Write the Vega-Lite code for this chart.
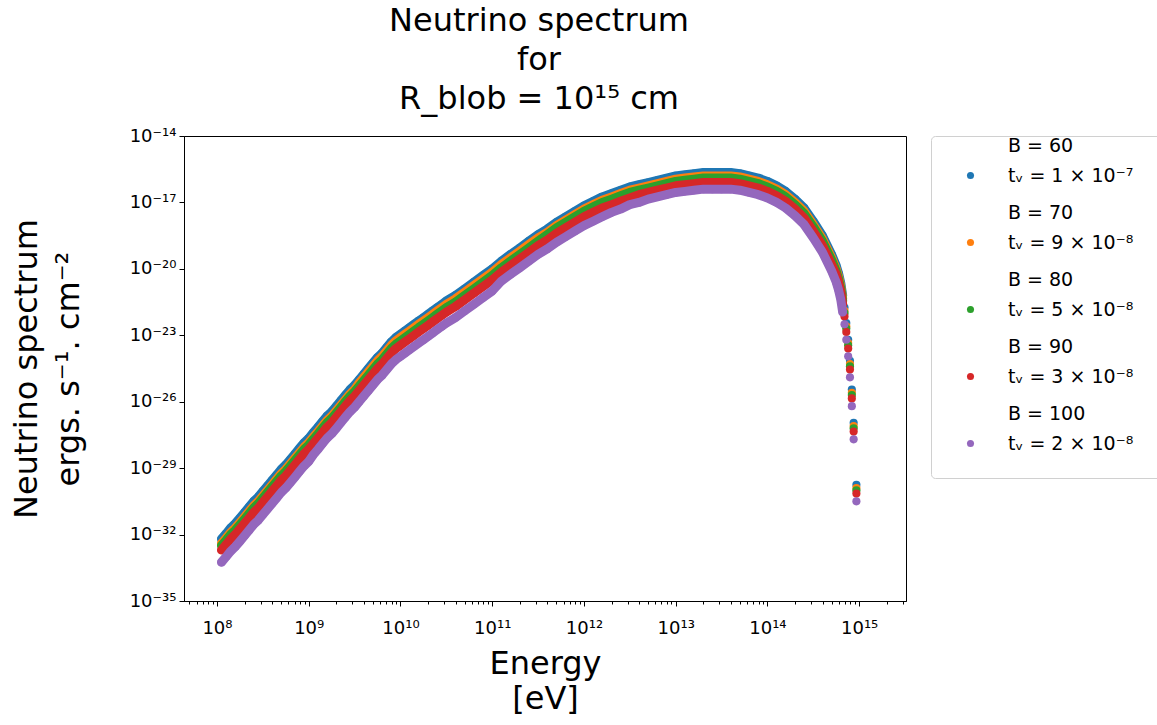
{
"$schema":"https://vega.github.io/schema/vega-lite/v6.json",
"width":722,"height":465,
"padding":{"left":10,"top":5,"right":0,"bottom":0},
"background":"white",
"title":{"text":["Neutrino spectrum","for","R_blob = 10¹⁵ cm"],"fontSize":32,"font":"DejaVu Sans","fontWeight":"normal","lineHeight":39,"anchor":"middle","frame":"group","offset":11,"dx":-6,"color":"black"},
"data":{"values":[
{"E":1.12e8,"B":60,"F":6.31e-33},{"E":1.26e8,"B":60,"F":1.12e-32},{"E":1.41e8,"B":60,"F":2e-32},{"E":1.58e8,"B":60,"F":3.16e-32},{"E":1.78e8,"B":60,"F":5.62e-32},{"E":2e8,"B":60,"F":1e-31},{"E":2.24e8,"B":60,"F":1.78e-31},{"E":2.51e8,"B":60,"F":3.16e-31},{"E":2.82e8,"B":60,"F":5.01e-31},{"E":3.16e8,"B":60,"F":8.91e-31},
{"E":3.55e8,"B":60,"F":1.58e-30},{"E":3.98e8,"B":60,"F":2.82e-30},{"E":4.47e8,"B":60,"F":5.01e-30},{"E":5.01e8,"B":60,"F":8.91e-30},{"E":5.62e8,"B":60,"F":1.41e-29},{"E":6.31e8,"B":60,"F":2.51e-29},{"E":7.08e8,"B":60,"F":4.47e-29},{"E":7.94e8,"B":60,"F":7.94e-29},{"E":8.91e8,"B":60,"F":1.41e-28},{"E":1e9,"B":60,"F":2.24e-28},
{"E":1.12e9,"B":60,"F":3.98e-28},{"E":1.26e9,"B":60,"F":7.08e-28},{"E":1.41e9,"B":60,"F":1.26e-27},{"E":1.58e9,"B":60,"F":2.24e-27},{"E":1.78e9,"B":60,"F":3.55e-27},{"E":2e9,"B":60,"F":6.31e-27},{"E":2.24e9,"B":60,"F":1.12e-26},{"E":2.51e9,"B":60,"F":2e-26},{"E":2.82e9,"B":60,"F":3.55e-26},{"E":3.16e9,"B":60,"F":5.62e-26},
{"E":3.55e9,"B":60,"F":1e-25},{"E":3.98e9,"B":60,"F":1.78e-25},{"E":4.47e9,"B":60,"F":3.16e-25},{"E":5.01e9,"B":60,"F":5.62e-25},{"E":5.62e9,"B":60,"F":1e-24},{"E":6.31e9,"B":60,"F":1.58e-24},{"E":7.08e9,"B":60,"F":2.82e-24},{"E":7.94e9,"B":60,"F":5.01e-24},{"E":8.91e9,"B":60,"F":7.94e-24},{"E":1e10,"B":60,"F":1.12e-23},
{"E":1.12e10,"B":60,"F":1.58e-23},{"E":1.26e10,"B":60,"F":2.24e-23},{"E":1.41e10,"B":60,"F":3.16e-23},{"E":1.58e10,"B":60,"F":4.47e-23},{"E":1.78e10,"B":60,"F":6.31e-23},{"E":2e10,"B":60,"F":8.91e-23},{"E":2.24e10,"B":60,"F":1.26e-22},{"E":2.51e10,"B":60,"F":1.78e-22},{"E":2.82e10,"B":60,"F":2.51e-22},{"E":3.16e10,"B":60,"F":3.55e-22},
{"E":3.98e10,"B":60,"F":6.31e-22},{"E":5.01e10,"B":60,"F":1.26e-21},{"E":6.31e10,"B":60,"F":2.51e-21},{"E":7.94e10,"B":60,"F":5.01e-21},{"E":1e11,"B":60,"F":1e-20},{"E":1.26e11,"B":60,"F":2.24e-20},{"E":1.58e11,"B":60,"F":4.47e-20},{"E":2e11,"B":60,"F":8.91e-20},{"E":2.51e11,"B":60,"F":1.78e-19},{"E":3.16e11,"B":60,"F":3.55e-19},
{"E":3.98e11,"B":60,"F":6.31e-19},{"E":5.01e11,"B":60,"F":1.26e-18},{"E":6.31e11,"B":60,"F":2.24e-18},{"E":7.94e11,"B":60,"F":3.98e-18},{"E":1e12,"B":60,"F":7.08e-18},{"E":1.26e12,"B":60,"F":1.12e-17},{"E":1.58e12,"B":60,"F":1.78e-17},{"E":2e12,"B":60,"F":2.51e-17},{"E":2.51e12,"B":60,"F":3.55e-17},{"E":3.16e12,"B":60,"F":5.01e-17},
{"E":3.98e12,"B":60,"F":6.31e-17},{"E":5.01e12,"B":60,"F":7.94e-17},{"E":6.31e12,"B":60,"F":1e-16},{"E":7.94e12,"B":60,"F":1.26e-16},{"E":1e13,"B":60,"F":1.58e-16},{"E":1.26e13,"B":60,"F":1.78e-16},{"E":1.58e13,"B":60,"F":2e-16},{"E":2e13,"B":60,"F":2.24e-16},{"E":2.51e13,"B":60,"F":2.24e-16},{"E":3.16e13,"B":60,"F":2.24e-16},
{"E":3.98e13,"B":60,"F":2.24e-16},{"E":5.01e13,"B":60,"F":2e-16},{"E":6.31e13,"B":60,"F":1.58e-16},{"E":7.94e13,"B":60,"F":1.26e-16},{"E":1e14,"B":60,"F":8.91e-17},{"E":1.26e14,"B":60,"F":5.62e-17},{"E":1.58e14,"B":60,"F":3.16e-17},{"E":2e14,"B":60,"F":1.41e-17},{"E":2.51e14,"B":60,"F":5.62e-18},{"E":3.16e14,"B":60,"F":1.41e-18},
{"E":3.98e14,"B":60,"F":3.16e-19},{"E":5.01e14,"B":60,"F":4.47e-20},{"E":5.62e14,"B":60,"F":1.41e-20},{"E":5.96e14,"B":60,"F":6.31e-21},{"E":6.31e14,"B":60,"F":2.24e-21},{"E":6.61e14,"B":60,"F":6.31e-22},{"E":6.92e14,"B":60,"F":1.78e-22},{"E":7.24e14,"B":60,"F":3.55e-23},{"E":7.59e14,"B":60,"F":6.31e-24},{"E":7.94e14,"B":60,"F":7.08e-25},
{"E":8.32e14,"B":60,"F":3.55e-26},{"E":8.71e14,"B":60,"F":1.12e-27},{"E":9.33e14,"B":60,"F":1.78e-30},

{"E":1.12e8,"B":70,"F":3.98e-33},{"E":1.26e8,"B":70,"F":7.08e-33},{"E":1.41e8,"B":70,"F":1.26e-32},{"E":1.58e8,"B":70,"F":2e-32},{"E":1.78e8,"B":70,"F":3.55e-32},{"E":2e8,"B":70,"F":6.31e-32},{"E":2.24e8,"B":70,"F":1.12e-31},{"E":2.51e8,"B":70,"F":2e-31},{"E":2.82e8,"B":70,"F":3.16e-31},{"E":3.16e8,"B":70,"F":5.62e-31},
{"E":3.55e8,"B":70,"F":1e-30},{"E":3.98e8,"B":70,"F":1.78e-30},{"E":4.47e8,"B":70,"F":3.16e-30},{"E":5.01e8,"B":70,"F":5.62e-30},{"E":5.62e8,"B":70,"F":8.91e-30},{"E":6.31e8,"B":70,"F":1.58e-29},{"E":7.08e8,"B":70,"F":2.82e-29},{"E":7.94e8,"B":70,"F":5.01e-29},{"E":8.91e8,"B":70,"F":8.91e-29},{"E":1e9,"B":70,"F":1.41e-28},
{"E":1.12e9,"B":70,"F":2.51e-28},{"E":1.26e9,"B":70,"F":4.47e-28},{"E":1.41e9,"B":70,"F":7.94e-28},{"E":1.58e9,"B":70,"F":1.41e-27},{"E":1.78e9,"B":70,"F":2.24e-27},{"E":2e9,"B":70,"F":3.98e-27},{"E":2.24e9,"B":70,"F":7.08e-27},{"E":2.51e9,"B":70,"F":1.26e-26},{"E":2.82e9,"B":70,"F":2.24e-26},{"E":3.16e9,"B":70,"F":3.55e-26},
{"E":3.55e9,"B":70,"F":7.08e-26},{"E":3.98e9,"B":70,"F":1.26e-25},{"E":4.47e9,"B":70,"F":2.24e-25},{"E":5.01e9,"B":70,"F":3.98e-25},{"E":5.62e9,"B":70,"F":7.08e-25},{"E":6.31e9,"B":70,"F":1.12e-24},{"E":7.08e9,"B":70,"F":2e-24},{"E":7.94e9,"B":70,"F":3.55e-24},{"E":8.91e9,"B":70,"F":5.62e-24},{"E":1e10,"B":70,"F":7.94e-24},
{"E":1.12e10,"B":70,"F":1.12e-23},{"E":1.26e10,"B":70,"F":1.58e-23},{"E":1.41e10,"B":70,"F":2.24e-23},{"E":1.58e10,"B":70,"F":3.16e-23},{"E":1.78e10,"B":70,"F":4.47e-23},{"E":2e10,"B":70,"F":6.31e-23},{"E":2.24e10,"B":70,"F":8.91e-23},{"E":2.51e10,"B":70,"F":1.26e-22},{"E":2.82e10,"B":70,"F":1.78e-22},{"E":3.16e10,"B":70,"F":2.51e-22},
{"E":3.98e10,"B":70,"F":4.47e-22},{"E":5.01e10,"B":70,"F":8.91e-22},{"E":6.31e10,"B":70,"F":1.78e-21},{"E":7.94e10,"B":70,"F":3.55e-21},{"E":1e11,"B":70,"F":7.08e-21},{"E":1.26e11,"B":70,"F":1.58e-20},{"E":1.58e11,"B":70,"F":3.16e-20},{"E":2e11,"B":70,"F":6.31e-20},{"E":2.51e11,"B":70,"F":1.26e-19},{"E":3.16e11,"B":70,"F":2.51e-19},
{"E":3.98e11,"B":70,"F":4.47e-19},{"E":5.01e11,"B":70,"F":8.91e-19},{"E":6.31e11,"B":70,"F":1.58e-18},{"E":7.94e11,"B":70,"F":2.82e-18},{"E":1e12,"B":70,"F":5.01e-18},{"E":1.26e12,"B":70,"F":7.94e-18},{"E":1.58e12,"B":70,"F":1.26e-17},{"E":2e12,"B":70,"F":1.78e-17},{"E":2.51e12,"B":70,"F":2.51e-17},{"E":3.16e12,"B":70,"F":3.55e-17},
{"E":3.98e12,"B":70,"F":4.47e-17},{"E":5.01e12,"B":70,"F":5.62e-17},{"E":6.31e12,"B":70,"F":7.08e-17},{"E":7.94e12,"B":70,"F":8.91e-17},{"E":1e13,"B":70,"F":1.12e-16},{"E":1.26e13,"B":70,"F":1.26e-16},{"E":1.58e13,"B":70,"F":1.41e-16},{"E":2e13,"B":70,"F":1.58e-16},{"E":2.51e13,"B":70,"F":1.58e-16},{"E":3.16e13,"B":70,"F":1.58e-16},
{"E":3.98e13,"B":70,"F":1.58e-16},{"E":5.01e13,"B":70,"F":1.41e-16},{"E":6.31e13,"B":70,"F":1.12e-16},{"E":7.94e13,"B":70,"F":8.91e-17},{"E":1e14,"B":70,"F":6.31e-17},{"E":1.26e14,"B":70,"F":3.98e-17},{"E":1.58e14,"B":70,"F":2.24e-17},{"E":2e14,"B":70,"F":1e-17},{"E":2.51e14,"B":70,"F":3.98e-18},{"E":3.16e14,"B":70,"F":1e-18},
{"E":3.98e14,"B":70,"F":2.24e-19},{"E":5.01e14,"B":70,"F":3.16e-20},{"E":5.62e14,"B":70,"F":1e-20},{"E":5.96e14,"B":70,"F":4.47e-21},{"E":6.31e14,"B":70,"F":1.58e-21},{"E":6.61e14,"B":70,"F":4.47e-22},{"E":6.92e14,"B":70,"F":1.26e-22},{"E":7.24e14,"B":70,"F":2.51e-23},{"E":7.59e14,"B":70,"F":4.47e-24},{"E":7.94e14,"B":70,"F":5.01e-25},
{"E":8.32e14,"B":70,"F":2.51e-26},{"E":8.71e14,"B":70,"F":7.94e-28},{"E":9.33e14,"B":70,"F":1.26e-30},

{"E":1.12e8,"B":80,"F":3.16e-33},{"E":1.26e8,"B":80,"F":5.62e-33},{"E":1.41e8,"B":80,"F":1e-32},{"E":1.58e8,"B":80,"F":1.58e-32},{"E":1.78e8,"B":80,"F":2.82e-32},{"E":2e8,"B":80,"F":5.01e-32},{"E":2.24e8,"B":80,"F":8.91e-32},{"E":2.51e8,"B":80,"F":1.58e-31},{"E":2.82e8,"B":80,"F":2.51e-31},{"E":3.16e8,"B":80,"F":4.47e-31},
{"E":3.55e8,"B":80,"F":7.94e-31},{"E":3.98e8,"B":80,"F":1.41e-30},{"E":4.47e8,"B":80,"F":2.51e-30},{"E":5.01e8,"B":80,"F":4.47e-30},{"E":5.62e8,"B":80,"F":7.08e-30},{"E":6.31e8,"B":80,"F":1.26e-29},{"E":7.08e8,"B":80,"F":2.24e-29},{"E":7.94e8,"B":80,"F":3.98e-29},{"E":8.91e8,"B":80,"F":7.08e-29},{"E":1e9,"B":80,"F":1.12e-28},
{"E":1.12e9,"B":80,"F":2e-28},{"E":1.26e9,"B":80,"F":3.55e-28},{"E":1.41e9,"B":80,"F":6.31e-28},{"E":1.58e9,"B":80,"F":1.12e-27},{"E":1.78e9,"B":80,"F":1.78e-27},{"E":2e9,"B":80,"F":3.16e-27},{"E":2.24e9,"B":80,"F":5.62e-27},{"E":2.51e9,"B":80,"F":1e-26},{"E":2.82e9,"B":80,"F":1.78e-26},{"E":3.16e9,"B":80,"F":2.82e-26},
{"E":3.55e9,"B":80,"F":5.01e-26},{"E":3.98e9,"B":80,"F":8.91e-26},{"E":4.47e9,"B":80,"F":1.58e-25},{"E":5.01e9,"B":80,"F":2.82e-25},{"E":5.62e9,"B":80,"F":5.01e-25},{"E":6.31e9,"B":80,"F":7.94e-25},{"E":7.08e9,"B":80,"F":1.41e-24},{"E":7.94e9,"B":80,"F":2.51e-24},{"E":8.91e9,"B":80,"F":3.98e-24},{"E":1e10,"B":80,"F":5.62e-24},
{"E":1.12e10,"B":80,"F":7.94e-24},{"E":1.26e10,"B":80,"F":1.12e-23},{"E":1.41e10,"B":80,"F":1.58e-23},{"E":1.58e10,"B":80,"F":2.24e-23},{"E":1.78e10,"B":80,"F":3.16e-23},{"E":2e10,"B":80,"F":4.47e-23},{"E":2.24e10,"B":80,"F":6.31e-23},{"E":2.51e10,"B":80,"F":8.91e-23},{"E":2.82e10,"B":80,"F":1.26e-22},{"E":3.16e10,"B":80,"F":1.78e-22},
{"E":3.98e10,"B":80,"F":3.16e-22},{"E":5.01e10,"B":80,"F":6.31e-22},{"E":6.31e10,"B":80,"F":1.26e-21},{"E":7.94e10,"B":80,"F":2.51e-21},{"E":1e11,"B":80,"F":5.01e-21},{"E":1.26e11,"B":80,"F":1.12e-20},{"E":1.58e11,"B":80,"F":2.24e-20},{"E":2e11,"B":80,"F":4.47e-20},{"E":2.51e11,"B":80,"F":8.91e-20},{"E":3.16e11,"B":80,"F":1.78e-19},
{"E":3.98e11,"B":80,"F":3.55e-19},{"E":5.01e11,"B":80,"F":7.08e-19},{"E":6.31e11,"B":80,"F":1.26e-18},{"E":7.94e11,"B":80,"F":2.24e-18},{"E":1e12,"B":80,"F":3.98e-18},{"E":1.26e12,"B":80,"F":6.31e-18},{"E":1.58e12,"B":80,"F":1e-17},{"E":2e12,"B":80,"F":1.41e-17},{"E":2.51e12,"B":80,"F":2e-17},{"E":3.16e12,"B":80,"F":2.82e-17},
{"E":3.98e12,"B":80,"F":3.55e-17},{"E":5.01e12,"B":80,"F":4.47e-17},{"E":6.31e12,"B":80,"F":5.62e-17},{"E":7.94e12,"B":80,"F":7.08e-17},{"E":1e13,"B":80,"F":8.91e-17},{"E":1.26e13,"B":80,"F":1e-16},{"E":1.58e13,"B":80,"F":1.12e-16},{"E":2e13,"B":80,"F":1.26e-16},{"E":2.51e13,"B":80,"F":1.26e-16},{"E":3.16e13,"B":80,"F":1.26e-16},
{"E":3.98e13,"B":80,"F":1.26e-16},{"E":5.01e13,"B":80,"F":1.12e-16},{"E":6.31e13,"B":80,"F":8.91e-17},{"E":7.94e13,"B":80,"F":7.08e-17},{"E":1e14,"B":80,"F":5.01e-17},{"E":1.26e14,"B":80,"F":3.16e-17},{"E":1.58e14,"B":80,"F":1.78e-17},{"E":2e14,"B":80,"F":7.94e-18},{"E":2.51e14,"B":80,"F":3.16e-18},{"E":3.16e14,"B":80,"F":7.94e-19},
{"E":3.98e14,"B":80,"F":1.78e-19},{"E":5.01e14,"B":80,"F":2.51e-20},{"E":5.62e14,"B":80,"F":7.94e-21},{"E":5.96e14,"B":80,"F":3.55e-21},{"E":6.31e14,"B":80,"F":1.26e-21},{"E":6.61e14,"B":80,"F":3.55e-22},{"E":6.92e14,"B":80,"F":1e-22},{"E":7.24e14,"B":80,"F":2e-23},{"E":7.59e14,"B":80,"F":3.55e-24},{"E":7.94e14,"B":80,"F":3.98e-25},
{"E":8.32e14,"B":80,"F":2e-26},{"E":8.71e14,"B":80,"F":6.31e-28},{"E":9.33e14,"B":80,"F":1e-30},

{"E":1.12e8,"B":90,"F":2e-33},{"E":1.26e8,"B":90,"F":3.55e-33},{"E":1.41e8,"B":90,"F":6.31e-33},{"E":1.58e8,"B":90,"F":1e-32},{"E":1.78e8,"B":90,"F":1.78e-32},{"E":2e8,"B":90,"F":3.16e-32},{"E":2.24e8,"B":90,"F":5.62e-32},{"E":2.51e8,"B":90,"F":1e-31},{"E":2.82e8,"B":90,"F":1.58e-31},{"E":3.16e8,"B":90,"F":2.82e-31},
{"E":3.55e8,"B":90,"F":5.01e-31},{"E":3.98e8,"B":90,"F":8.91e-31},{"E":4.47e8,"B":90,"F":1.58e-30},{"E":5.01e8,"B":90,"F":2.82e-30},{"E":5.62e8,"B":90,"F":4.47e-30},{"E":6.31e8,"B":90,"F":7.94e-30},{"E":7.08e8,"B":90,"F":1.41e-29},{"E":7.94e8,"B":90,"F":2.51e-29},{"E":8.91e8,"B":90,"F":4.47e-29},{"E":1e9,"B":90,"F":7.08e-29},
{"E":1.12e9,"B":90,"F":1.26e-28},{"E":1.26e9,"B":90,"F":2.24e-28},{"E":1.41e9,"B":90,"F":3.98e-28},{"E":1.58e9,"B":90,"F":7.08e-28},{"E":1.78e9,"B":90,"F":1.12e-27},{"E":2e9,"B":90,"F":2e-27},{"E":2.24e9,"B":90,"F":3.55e-27},{"E":2.51e9,"B":90,"F":6.31e-27},{"E":2.82e9,"B":90,"F":1.12e-26},{"E":3.16e9,"B":90,"F":1.78e-26},
{"E":3.55e9,"B":90,"F":3.16e-26},{"E":3.98e9,"B":90,"F":5.62e-26},{"E":4.47e9,"B":90,"F":1e-25},{"E":5.01e9,"B":90,"F":1.78e-25},{"E":5.62e9,"B":90,"F":3.16e-25},{"E":6.31e9,"B":90,"F":5.01e-25},{"E":7.08e9,"B":90,"F":8.91e-25},{"E":7.94e9,"B":90,"F":1.58e-24},{"E":8.91e9,"B":90,"F":2.51e-24},{"E":1e10,"B":90,"F":3.55e-24},
{"E":1.12e10,"B":90,"F":5.01e-24},{"E":1.26e10,"B":90,"F":7.08e-24},{"E":1.41e10,"B":90,"F":1e-23},{"E":1.58e10,"B":90,"F":1.41e-23},{"E":1.78e10,"B":90,"F":2e-23},{"E":2e10,"B":90,"F":2.82e-23},{"E":2.24e10,"B":90,"F":3.98e-23},{"E":2.51e10,"B":90,"F":5.62e-23},{"E":2.82e10,"B":90,"F":7.94e-23},{"E":3.16e10,"B":90,"F":1.12e-22},
{"E":3.98e10,"B":90,"F":2e-22},{"E":5.01e10,"B":90,"F":3.98e-22},{"E":6.31e10,"B":90,"F":7.94e-22},{"E":7.94e10,"B":90,"F":1.58e-21},{"E":1e11,"B":90,"F":3.16e-21},{"E":1.26e11,"B":90,"F":7.08e-21},{"E":1.58e11,"B":90,"F":1.41e-20},{"E":2e11,"B":90,"F":2.82e-20},{"E":2.51e11,"B":90,"F":5.62e-20},{"E":3.16e11,"B":90,"F":1.12e-19},
{"E":3.98e11,"B":90,"F":2e-19},{"E":5.01e11,"B":90,"F":3.98e-19},{"E":6.31e11,"B":90,"F":7.08e-19},{"E":7.94e11,"B":90,"F":1.26e-18},{"E":1e12,"B":90,"F":2.24e-18},{"E":1.26e12,"B":90,"F":3.55e-18},{"E":1.58e12,"B":90,"F":5.62e-18},{"E":2e12,"B":90,"F":7.94e-18},{"E":2.51e12,"B":90,"F":1.12e-17},{"E":3.16e12,"B":90,"F":1.58e-17},
{"E":3.98e12,"B":90,"F":2.24e-17},{"E":5.01e12,"B":90,"F":2.82e-17},{"E":6.31e12,"B":90,"F":3.55e-17},{"E":7.94e12,"B":90,"F":4.47e-17},{"E":1e13,"B":90,"F":5.62e-17},{"E":1.26e13,"B":90,"F":6.31e-17},{"E":1.58e13,"B":90,"F":7.08e-17},{"E":2e13,"B":90,"F":7.94e-17},{"E":2.51e13,"B":90,"F":7.94e-17},{"E":3.16e13,"B":90,"F":7.94e-17},
{"E":3.98e13,"B":90,"F":7.94e-17},{"E":5.01e13,"B":90,"F":7.08e-17},{"E":6.31e13,"B":90,"F":5.62e-17},{"E":7.94e13,"B":90,"F":4.47e-17},{"E":1e14,"B":90,"F":3.16e-17},{"E":1.26e14,"B":90,"F":2e-17},{"E":1.58e14,"B":90,"F":1.12e-17},{"E":2e14,"B":90,"F":5.01e-18},{"E":2.51e14,"B":90,"F":2e-18},{"E":3.16e14,"B":90,"F":5.01e-19},
{"E":3.98e14,"B":90,"F":1.12e-19},{"E":5.01e14,"B":90,"F":1.58e-20},{"E":5.62e14,"B":90,"F":5.62e-21},{"E":5.96e14,"B":90,"F":2.51e-21},{"E":6.31e14,"B":90,"F":8.91e-22},{"E":6.61e14,"B":90,"F":2.51e-22},{"E":6.92e14,"B":90,"F":7.08e-23},{"E":7.24e14,"B":90,"F":1.41e-23},{"E":7.59e14,"B":90,"F":2.51e-24},{"E":7.94e14,"B":90,"F":2.82e-25},
{"E":8.32e14,"B":90,"F":1.41e-26},{"E":8.71e14,"B":90,"F":4.47e-28},{"E":9.33e14,"B":90,"F":7.08e-31},

{"E":1.12e8,"B":100,"F":5.62e-34},{"E":1.26e8,"B":100,"F":1e-33},{"E":1.41e8,"B":100,"F":1.78e-33},{"E":1.58e8,"B":100,"F":2.82e-33},{"E":1.78e8,"B":100,"F":5.01e-33},{"E":2e8,"B":100,"F":8.91e-33},{"E":2.24e8,"B":100,"F":1.58e-32},{"E":2.51e8,"B":100,"F":2.82e-32},{"E":2.82e8,"B":100,"F":4.47e-32},{"E":3.16e8,"B":100,"F":7.94e-32},
{"E":3.55e8,"B":100,"F":1.41e-31},{"E":3.98e8,"B":100,"F":2.51e-31},{"E":4.47e8,"B":100,"F":4.47e-31},{"E":5.01e8,"B":100,"F":7.94e-31},{"E":5.62e8,"B":100,"F":1.26e-30},{"E":6.31e8,"B":100,"F":2.24e-30},{"E":7.08e8,"B":100,"F":3.98e-30},{"E":7.94e8,"B":100,"F":7.08e-30},{"E":8.91e8,"B":100,"F":1.26e-29},{"E":1e9,"B":100,"F":2e-29},
{"E":1.12e9,"B":100,"F":3.98e-29},{"E":1.26e9,"B":100,"F":7.08e-29},{"E":1.41e9,"B":100,"F":1.26e-28},{"E":1.58e9,"B":100,"F":2.24e-28},{"E":1.78e9,"B":100,"F":3.55e-28},{"E":2e9,"B":100,"F":6.31e-28},{"E":2.24e9,"B":100,"F":1.12e-27},{"E":2.51e9,"B":100,"F":2e-27},{"E":2.82e9,"B":100,"F":3.55e-27},{"E":3.16e9,"B":100,"F":5.62e-27},
{"E":3.55e9,"B":100,"F":1e-26},{"E":3.98e9,"B":100,"F":1.78e-26},{"E":4.47e9,"B":100,"F":3.16e-26},{"E":5.01e9,"B":100,"F":5.62e-26},{"E":5.62e9,"B":100,"F":1e-25},{"E":6.31e9,"B":100,"F":1.58e-25},{"E":7.08e9,"B":100,"F":2.82e-25},{"E":7.94e9,"B":100,"F":5.01e-25},{"E":8.91e9,"B":100,"F":7.94e-25},{"E":1e10,"B":100,"F":1.12e-24},
{"E":1.12e10,"B":100,"F":1.58e-24},{"E":1.26e10,"B":100,"F":2.24e-24},{"E":1.41e10,"B":100,"F":3.16e-24},{"E":1.58e10,"B":100,"F":4.47e-24},{"E":1.78e10,"B":100,"F":6.31e-24},{"E":2e10,"B":100,"F":8.91e-24},{"E":2.24e10,"B":100,"F":1.26e-23},{"E":2.51e10,"B":100,"F":1.78e-23},{"E":2.82e10,"B":100,"F":2.51e-23},{"E":3.16e10,"B":100,"F":3.55e-23},
{"E":3.98e10,"B":100,"F":6.31e-23},{"E":5.01e10,"B":100,"F":1.26e-22},{"E":6.31e10,"B":100,"F":2.51e-22},{"E":7.94e10,"B":100,"F":5.01e-22},{"E":1e11,"B":100,"F":1e-21},{"E":1.26e11,"B":100,"F":2.82e-21},{"E":1.58e11,"B":100,"F":5.62e-21},{"E":2e11,"B":100,"F":1.12e-20},{"E":2.51e11,"B":100,"F":2.24e-20},{"E":3.16e11,"B":100,"F":4.47e-20},
{"E":3.98e11,"B":100,"F":7.94e-20},{"E":5.01e11,"B":100,"F":1.58e-19},{"E":6.31e11,"B":100,"F":2.82e-19},{"E":7.94e11,"B":100,"F":5.01e-19},{"E":1e12,"B":100,"F":8.91e-19},{"E":1.26e12,"B":100,"F":1.41e-18},{"E":1.58e12,"B":100,"F":2.24e-18},{"E":2e12,"B":100,"F":3.55e-18},{"E":2.51e12,"B":100,"F":5.01e-18},{"E":3.16e12,"B":100,"F":7.94e-18},
{"E":3.98e12,"B":100,"F":1e-17},{"E":5.01e12,"B":100,"F":1.41e-17},{"E":6.31e12,"B":100,"F":1.78e-17},{"E":7.94e12,"B":100,"F":2.24e-17},{"E":1e13,"B":100,"F":2.82e-17},{"E":1.26e13,"B":100,"F":3.16e-17},{"E":1.58e13,"B":100,"F":3.55e-17},{"E":2e13,"B":100,"F":3.98e-17},{"E":2.51e13,"B":100,"F":3.98e-17},{"E":3.16e13,"B":100,"F":3.98e-17},
{"E":3.98e13,"B":100,"F":3.98e-17},{"E":5.01e13,"B":100,"F":3.55e-17},{"E":6.31e13,"B":100,"F":2.82e-17},{"E":7.94e13,"B":100,"F":2.24e-17},{"E":1e14,"B":100,"F":1.58e-17},{"E":1.26e14,"B":100,"F":1e-17},{"E":1.58e14,"B":100,"F":5.62e-18},{"E":2e14,"B":100,"F":2.51e-18},{"E":2.51e14,"B":100,"F":1e-18},{"E":3.16e14,"B":100,"F":2.51e-19},
{"E":3.98e14,"B":100,"F":5.62e-20},{"E":5.01e14,"B":100,"F":7.94e-21},{"E":5.62e14,"B":100,"F":2.51e-21},{"E":5.96e14,"B":100,"F":1.12e-21},{"E":6.31e14,"B":100,"F":3.98e-22},{"E":6.61e14,"B":100,"F":1.12e-22},{"E":6.92e14,"B":100,"F":3.16e-23},{"E":7.24e14,"B":100,"F":6.31e-24},{"E":7.59e14,"B":100,"F":1.12e-24},{"E":7.94e14,"B":100,"F":1.26e-25},
{"E":8.32e14,"B":100,"F":6.31e-27},{"E":8.71e14,"B":100,"F":2e-28},{"E":9.33e14,"B":100,"F":3.16e-31}
]},
"encoding":{
"x":{"field":"E","type":"quantitative","title":["Energy","[eV]"],
"scale":{"type":"log","domain":[4.37e7,3.24e15],"nice":false},
"axis":{"values":[5e7,6e7,7e7,8e7,9e7,1e8,2e8,3e8,4e8,5e8,6e8,7e8,8e8,9e8,1e9,2e9,3e9,4e9,5e9,6e9,7e9,8e9,9e9,1e10,2e10,3e10,4e10,5e10,6e10,7e10,8e10,9e10,1e11,2e11,3e11,4e11,5e11,6e11,7e11,8e11,9e11,1e12,2e12,3e12,4e12,5e12,6e12,7e12,8e12,9e12,1e13,2e13,3e13,4e13,5e13,6e13,7e13,8e13,9e13,1e14,2e14,3e14,4e14,5e14,6e14,7e14,8e14,9e14,1e15,2e15,3e15],
"labelExpr":"abs(log(datum.value)/LN10 - round(log(datum.value)/LN10)) > 0.001 ? '' : '10' + (round(log(datum.value)/LN10) >= 10 ? ['⁰','¹','²','³','⁴','⁵','⁶','⁷','⁸','⁹'][floor(round(log(datum.value)/LN10)/10)] : '') + ['⁰','¹','²','³','⁴','⁵','⁶','⁷','⁸','⁹'][round(log(datum.value)/LN10) % 10]",
"tickSize":{"condition":{"test":"abs(log(datum.value)/LN10 - round(log(datum.value)/LN10)) < 0.001","value":5},"value":3},
"labelOverlap":false,"labelFlush":false,"labelPadding":13,"titlePadding":11,"titleLineHeight":35}},
"y":{"field":"F","type":"quantitative","title":["Neutrino spectrum","ergs. s⁻¹. cm⁻²"],
"scale":{"type":"log","domain":[1e-35,1e-14],"nice":false},
"axis":{"values":[1e-35,1e-32,1e-29,1e-26,1e-23,1e-20,1e-17,1e-14],
"labelExpr":"'10⁻' + ['⁰','¹','²','³','⁴','⁵','⁶','⁷','⁸','⁹'][floor(-round(log(datum.value)/LN10)/10)] + ['⁰','¹','²','³','⁴','⁵','⁶','⁷','⁸','⁹'][(-round(log(datum.value)/LN10)) % 10]",
"tickSize":5,"labelPadding":3,"titlePadding":44,"titleLineHeight":42,"labelOverlap":false,"labelFlush":false}},
"color":{"field":"B","type":"nominal","scale":{"domain":[60,70,80,90,100],"range":["#1f77b4","#ff7f0e","#2ca02c","#d62728","#9467bd"]},
"legend":{"title":null,"orient":"right","offset":25,"symbolType":"circle","symbolSize":50,"symbolStrokeWidth":0,"labelFontSize":19,"labelLimit":300,
"labelExpr":"datum.value == 60 ? ['tᵥ = 1 × 10⁻⁷','B = 60'] : datum.value == 70 ? ['tᵥ = 9 × 10⁻⁸','B = 70'] : datum.value == 80 ? ['tᵥ = 5 × 10⁻⁸','B = 80'] : datum.value == 90 ? ['tᵥ = 3 × 10⁻⁸','B = 90'] : ['tᵥ = 2 × 10⁻⁸','B = 100']",
"strokeColor":"#d0d0d0","fillColor":"white","cornerRadius":4,"padding":30,"symbolOffset":0,"labelOffset":28,"rowPadding":42}}
},
"layer":[
{"mark":{"type":"circle","size":66,"opacity":1}},
{"transform":[{"filter":"datum.E < 6.7e14"}],"mark":{"type":"line","strokeWidth":9,"strokeCap":"round","strokeJoin":"round"}}
],
"config":{
"font":"DejaVu Sans",
"view":{"stroke":"black","strokeWidth":1},
"style":{"guide-label":{"lineHeight":-30}},
"axis":{"grid":false,"domainColor":"black","tickColor":"black","labelColor":"black","titleColor":"black","labelFont":"DejaVu Sans","titleFont":"DejaVu Sans","labelFontSize":18,"titleFontSize":32,"titleFontWeight":"normal","domainWidth":1,"tickWidth":1},
"legend":{"labelFont":"DejaVu Sans","labelColor":"black"}
}
}
